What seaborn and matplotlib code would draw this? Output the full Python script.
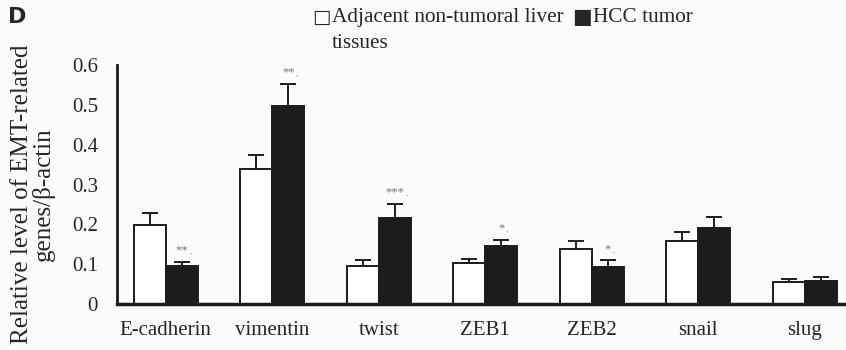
import matplotlib
matplotlib.use("Agg")
import matplotlib.pyplot as plt
import seaborn as sns
import pandas as pd
import numpy as np

genes = ["E-cadherin", "vimentin", "twist", "ZEB1", "ZEB2", "snail", "slug"]
adjacent = [0.198, 0.339, 0.095, 0.103, 0.138, 0.159, 0.055]
adjacent_err = [0.030, 0.035, 0.015, 0.010, 0.020, 0.022, 0.007]
tumor = [0.095, 0.497, 0.217, 0.147, 0.094, 0.192, 0.059]
tumor_err = [0.011, 0.056, 0.035, 0.014, 0.016, 0.027, 0.008]
signif = ["**", "**", "***", "*", "*", "", ""]
yticks = [0, 0.1, 0.2, 0.3, 0.4, 0.5, 0.6]
ytick_labels = ["0", "0.1", "0.2", "0.3", "0.4", "0.5", "0.6"]
groups = ["Adjacent non-tumoral liver", "HCC tumor tissues"]

df = pd.DataFrame({
    "gene": genes * 2,
    "value": adjacent + tumor,
    "group": [groups[0]] * len(genes) + [groups[1]] * len(genes),
})

sns.set_style("white")
plt.rcParams["font.family"] = ["Liberation Serif", "DejaVu Sans"]

fig = plt.figure(figsize=(8.46, 3.5), dpi=100, facecolor="#fbfbfd")
ax = fig.add_axes([0.138, 0.131, 0.87, 0.683])
ax.set_facecolor("#fbfbfd")

sns.barplot(data=df, x="gene", y="value", hue="group", order=genes,
            hue_order=groups, palette=["white", "#1c1c1c"], width=0.6,
            edgecolor="#1c1c1c", linewidth=1.4, errorbar=None, legend=False,
            ax=ax)

n = len(genes)
patches = ax.patches[:2 * n]
errs = adjacent_err + tumor_err
for i, p in enumerate(patches):
    x = p.get_x() + p.get_width() / 2
    h = p.get_height()
    ax.errorbar([x], [h], yerr=[[0], [errs[i]]], fmt="none", ecolor="#1c1c1c",
                elinewidth=1.4, capsize=5.5, capthick=1.4, zorder=3)

for i in range(n):
    if signif[i]:
        p = patches[n + i]
        x = p.get_x() + p.get_width() / 2
        top = p.get_height() + tumor_err[i]
        ax.annotate(signif[i], (x, top), xytext=(0, 6), textcoords="offset points",
                    ha="center", va="baseline", fontsize=9, color="#777777")
        ax.annotate(".,", (x, top), xytext=(2.3 * len(signif[i]) + 1, 6),
                    textcoords="offset points", ha="left", va="baseline",
                    fontsize=5, color="#999999")

ax.set_xlim(-0.46, 6.45)
ax.set_ylim(0, 0.6)
ax.set_yticks(yticks)
ax.set_yticklabels(ytick_labels, fontsize=15)
ax.set_xticks(range(n))
ax.set_xticklabels(genes, fontsize=15)
ax.set_xticks([i + 0.5 for i in range(n - 1)], minor=True)
ax.tick_params(axis="x", which="major", length=0, pad=12)
ax.tick_params(axis="x", which="minor", direction="in", length=4, width=2, color="#1c1c1c")
ax.tick_params(axis="y", which="major", direction="in", length=5, width=2,
               color="#1c1c1c", pad=13.5)
ax.set_xlabel("")
ax.set_ylabel("Relative level of EMT-related\ngenes/β-actin", fontsize=18,
              linespacing=0.93)
ax.yaxis.set_label_coords(-0.084, 0.46)

for s in ["top", "right"]:
    ax.spines[s].set_visible(False)
ax.spines["left"].set_linewidth(2)
ax.spines["bottom"].set_linewidth(2.5)
ax.spines["left"].set_color("#1c1c1c")
ax.spines["bottom"].set_color("#1c1c1c")

fig.text(0.009, 0.951, "D", fontsize=16, fontweight="bold",
         family=["DejaVu Sans"], va="center", ha="left")
fig.text(0.369, 0.951, "□", fontsize=14, family=["DejaVu Sans"], va="center", ha="left")
fig.text(0.392, 0.949, "Adjacent non-tumoral liver", fontsize=15.3, va="center", ha="left")
fig.text(0.676, 0.951, "■", fontsize=15, family=["DejaVu Sans"], va="center", ha="left")
fig.text(0.701, 0.949, "HCC tumor", fontsize=15.3, va="center", ha="left")
fig.text(0.392, 0.877, "tissues", fontsize=15.3, va="center", ha="left")

fig.savefig("out.png", dpi=100, facecolor=fig.get_facecolor())
